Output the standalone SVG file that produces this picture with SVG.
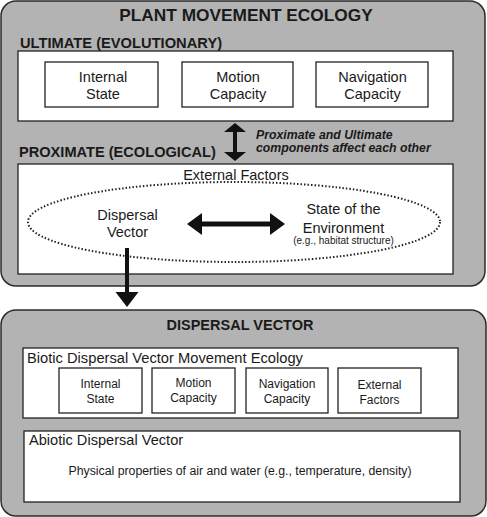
<svg xmlns="http://www.w3.org/2000/svg" width="487" height="517" viewBox="0 0 487 517">
<style>
.panel{fill:#b3b3b3;stroke:#2b2b2b;stroke-width:1.5}
.box{fill:#fff;stroke:#222;stroke-width:1.3}
text{font-family:"Liberation Sans",Arial,sans-serif;fill:#1a1a1a}
.h{font-weight:bold}
.c{text-anchor:middle}
.arrow{fill:#111}
</style>
<rect width="487" height="517" fill="#fff"/>
<g id="plant-movement-ecology">
<rect class="panel" x="1" y="1" width="484" height="285" rx="15"/>
<text class="h c" x="246" y="21" font-size="17.3">PLANT MOVEMENT ECOLOGY</text>
</g>
<g id="ultimate">
<text class="h" x="20" y="48" font-size="14.7">ULTIMATE (EVOLUTIONARY)</text>
<rect class="box" x="18" y="51" width="435" height="70"/>
</g>
<g id="u-internal-state">
<rect class="box" x="45" y="62" width="113" height="45"/>
<text class="c" x="103" y="82" font-size="14.5">Internal</text>
<text class="c" x="103" y="99" font-size="14.5">State</text>
</g>
<g id="u-motion-capacity">
<rect class="box" x="182" y="62" width="111" height="45"/>
<text class="c" x="238" y="82" font-size="14.5">Motion</text>
<text class="c" x="238" y="99" font-size="14.5">Capacity</text>
</g>
<g id="u-navigation-capacity">
<rect class="box" x="316" y="62" width="112" height="45"/>
<text class="c" x="372.5" y="82" font-size="14.5">Navigation</text>
<text class="c" x="372.5" y="99" font-size="14.5">Capacity</text>
</g>
<g id="interaction-note">
<text class="h" x="256" y="139" font-size="12.3" font-style="italic">Proximate and Ultimate</text>
<text class="h" x="256" y="152" font-size="12.3" font-style="italic">components affect each other</text>
</g>
<g id="proximate">
<text class="h" x="19" y="157" font-size="14.6">PROXIMATE (ECOLOGICAL)</text>
<rect class="box" x="18" y="164" width="435" height="110"/>
<text class="c" x="236" y="180" font-size="14.5">External Factors</text>
<ellipse cx="234" cy="222" rx="206" ry="40" fill="none" stroke="#222" stroke-width="2" stroke-dasharray="1.5,2"/>
</g>
<g id="p-dispersal-vector">
<text class="c" x="127.5" y="220" font-size="14.5">Dispersal</text>
<text class="c" x="127.5" y="237" font-size="14.5">Vector</text>
</g>
<g id="p-state-environment">
<text class="c" x="343.5" y="214" font-size="14.5">State of the</text>
<text class="c" x="343.5" y="233" font-size="14.5">Environment</text>
<text class="c" x="343.5" y="244" font-size="10">(e.g., habitat structure)</text>
</g>
<g id="dispersal-vector">
<rect class="panel" x="1" y="310" width="485" height="206" rx="15"/>
<text class="h c" x="240" y="330" font-size="14.5">DISPERSAL VECTOR</text>
</g>
<g id="biotic">
<rect class="box" x="23" y="348" width="435" height="70"/>
<text x="27" y="363" font-size="14.7">Biotic Dispersal Vector Movement Ecology</text>
</g>
<g id="b-internal-state">
<rect class="box" x="59" y="368" width="83" height="45"/>
<text class="c" x="100.5" y="388" font-size="12">Internal</text>
<text class="c" x="100.5" y="403" font-size="12">State</text>
</g>
<g id="b-motion-capacity">
<rect class="box" x="152" y="368" width="83" height="45"/>
<text class="c" x="193.5" y="387" font-size="12">Motion</text>
<text class="c" x="193.5" y="402" font-size="12">Capacity</text>
</g>
<g id="b-navigation-capacity">
<rect class="box" x="246" y="368" width="82" height="45"/>
<text class="c" x="287" y="388" font-size="12">Navigation</text>
<text class="c" x="287" y="403" font-size="12">Capacity</text>
</g>
<g id="b-external-factors">
<rect class="box" x="338" y="368" width="83" height="45"/>
<text class="c" x="379.5" y="389" font-size="12">External</text>
<text class="c" x="379.5" y="404" font-size="12">Factors</text>
</g>
<g id="abiotic">
<rect class="box" x="24" y="431" width="436" height="71"/>
<text x="29" y="445" font-size="14.6">Abiotic Dispersal Vector</text>
<text class="c" x="240" y="475" font-size="12.3">Physical properties of air and water (e.g., temperature, density)</text>
</g>
<g id="connectors">
<polygon class="arrow" points="235,123 246,132 237,132 237,152 246,152 235,161 224,152 233,152 233,132 224,132"/>
<polygon class="arrow" points="187,224 202,213 202,221.5 270,221.5 270,213 285,224 270,235 270,226.5 202,226.5 202,235"/>
<polygon class="arrow" points="125,248 129,248 129,292 138.5,292 127,307 115.5,292 125,292"/>
</g>
</svg>
